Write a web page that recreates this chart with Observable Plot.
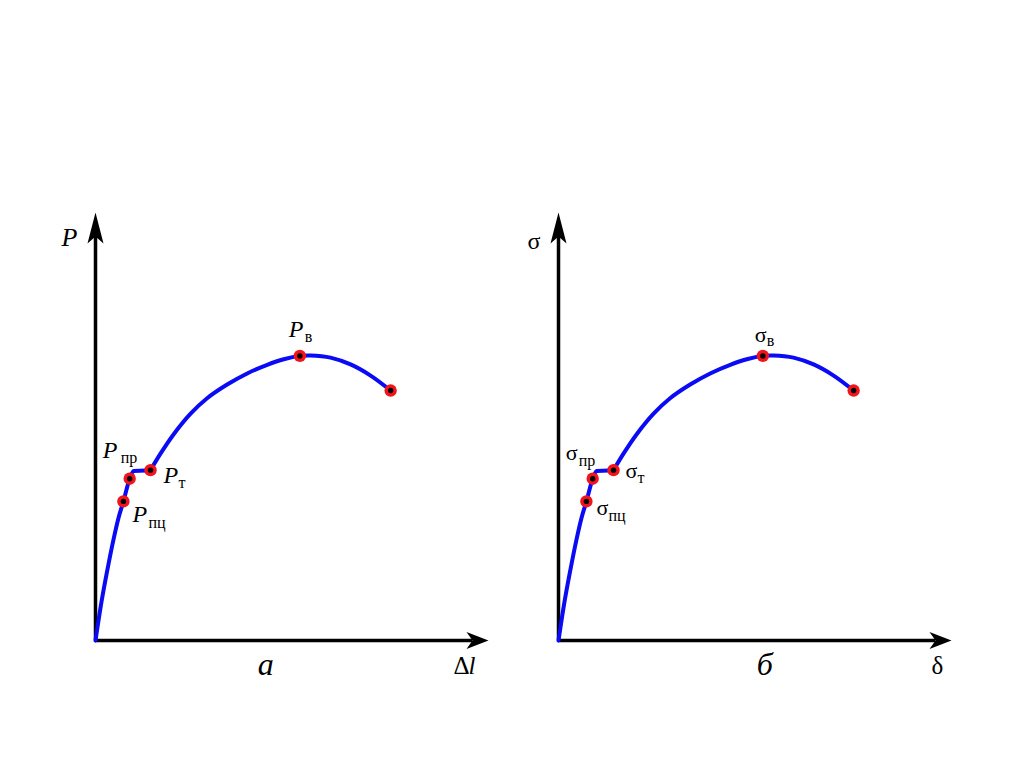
<!DOCTYPE html>
<html><head><meta charset="utf-8">
<script src="https://cdn.jsdelivr.net/npm/d3@7"></script>
<script src="https://cdn.jsdelivr.net/npm/@observablehq/plot@0.6"></script>
<style>
html,body{margin:0;padding:0;background:#fff;}
#wrap{position:relative;width:1024px;height:767px;overflow:hidden;background:#fff;}
#wrap svg{position:absolute;top:0;}
</style></head><body><div id="wrap"></div>
<script>
// Stress–strain (load–elongation) diagram, arbitrary units (axis runs 0..10)
const curveX = [0, 0.13, 0.30, 0.47, 0.59, 0.71, 0.87, 0.97, 1.27, 1.40, 1.65, 1.99, 2.42, 2.84, 3.35, 3.86, 4.37, 4.79, 5.20, 5.47, 5.98, 6.49, 7.00, 7.51];
const curveY = [0, 0.78, 1.64, 2.41, 2.88, 3.25, 3.78, 3.96, 3.97, 3.98, 4.36, 4.82, 5.30, 5.66, 5.98, 6.24, 6.44, 6.57, 6.65, 6.66, 6.61, 6.45, 6.19, 5.84];
const pointKeys = ["пц", "пр", "т", "в", "end"];
const pointX = [0.71, 0.87, 1.40, 5.20, 7.51];
const pointY = [3.25, 3.78, 3.98, 6.65, 5.84];
const axisMax = [10, 10];
const panelSymbols = ["P", "σ"];
const panelCaptions = ["а", "б"];
const panelCaptionX = [4.33, 5.25];
const panelXLabels = ["Δl", "δ"];

const curve = curveX.map((x, i) => ({x, y: curveY[i]}));
const yieldIdx = curveX.indexOf(1.40);
const curveElastic = curve.slice(0, yieldIdx + 1);
const curvePlastic = curve.slice(yieldIdx);
const points = pointKeys.map((k, i) => ({k, x: pointX[i], y: pointY[i]}));

const arrowUp = {draw(ctx) { ctx.moveTo(0, 0); ctx.lineTo(8, 31); ctx.lineTo(0, 24); ctx.lineTo(-8, 31); ctx.closePath(); }};
const arrowRight = {draw(ctx) { ctx.moveTo(0, 0); ctx.lineTo(-22, -8.5); ctx.lineTo(-16, 0); ctx.lineTo(-22, 8.5); ctx.closePath(); }};

const serif = "'Liberation Serif', 'Times New Roman', serif";

// label offsets (pixels) per panel: [main dx, dy, sub dx, dy]
const labelOffsets = [
  {"пц": [9, 21, 25, 27], "пр": [-27, -21, -9, -16], "т": [13, 13, 28, 18], "в": [-11, -19, 5, -14]},
  {"пц": [10, 14, 22, 20], "пр": [-27, -19, -14, -13], "т": [12, 8, 24, 13], "в": [-8, -14, 4, -10]}
];

const wrap = document.getElementById("wrap");
const lefts = [0, 463];

[0, 1].forEach(p => {
  const italic = p === 0 ? "italic" : "normal";
  const mainSize = p === 0 ? 24 : 22;
  const labelMarks = [];
  points.filter(d => d.k !== "end").forEach(d => {
    const o = labelOffsets[p][d.k];
    labelMarks.push(Plot.text([d], {x: "x", y: "y", text: () => panelSymbols[p], dx: o[0], dy: o[1], textAnchor: "start", lineAnchor: "bottom", fontFamily: serif, fontSize: mainSize, fontStyle: italic, fill: "#000"}));
    labelMarks.push(Plot.text([d], {x: "x", y: "y", text: "k", dx: o[2], dy: o[3], textAnchor: "start", lineAnchor: "bottom", fontFamily: serif, fontSize: 16, fill: "#000"}));
  });
  const xLabelMarks = p === 0
    ? [Plot.text([{x: axisMax[0], y: 0}], {x: "x", y: "y", text: () => "Δ", dx: -35, dy: 33, textAnchor: "start", lineAnchor: "bottom", fontFamily: serif, fontSize: 25}),
       Plot.text([{x: axisMax[0], y: 0}], {x: "x", y: "y", text: () => "l", dx: -20, dy: 33, textAnchor: "start", lineAnchor: "bottom", fontFamily: serif, fontSize: 25, fontStyle: "italic"})]
    : [Plot.text([{x: axisMax[0], y: 0}], {x: "x", y: "y", text: () => panelXLabels[1], dx: -20, dy: 33, textAnchor: "start", lineAnchor: "bottom", fontFamily: serif, fontSize: 25})];

  const chart = Plot.plot({
    width: 512, height: 767,
    marginLeft: 95, marginRight: 24, marginTop: 212, marginBottom: 127,
    x: {domain: [0, axisMax[0]], axis: null},
    y: {domain: [0, axisMax[1]], axis: null},
    style: {background: "transparent", overflow: "visible"},
    marks: [
      Plot.ruleX([0], {y1: 0, y2: axisMax[1] - 0.5, stroke: "#000", strokeWidth: 3.5}),
      Plot.ruleY([0], {x1: 0, x2: axisMax[0] - 0.4, stroke: "#000", strokeWidth: 3.5}),
      Plot.dot([{x: 0, y: axisMax[1]}], {x: "x", y: "y", symbol: arrowUp, fill: "#000", stroke: "none"}),
      Plot.dot([{x: axisMax[0], y: 0}], {x: "x", y: "y", symbol: arrowRight, fill: "#000", stroke: "none"}),
      Plot.line(curveElastic, {x: "x", y: "y", curve: "monotone-x", stroke: "#0a0af5", strokeWidth: 4}),
      Plot.line(curvePlastic, {x: "x", y: "y", curve: "catmull-rom", stroke: "#0a0af5", strokeWidth: 4}),
      Plot.dot(points, {x: "x", y: "y", r: 6.2, fill: "#f2141c", stroke: "none"}),
      Plot.dot(points, {x: "x", y: "y", r: 2.7, fill: "#000", stroke: "none"}),
      Plot.text([{x: 0, y: axisMax[1]}], {x: "x", y: "y", text: () => panelSymbols[p], dx: p === 0 ? -34 : -31, dy: p === 0 ? 33 : 36, textAnchor: "start", lineAnchor: "bottom", fontFamily: serif, fontSize: p === 0 ? 26 : 24, fontStyle: italic}),
      Plot.text([{x: panelCaptionX[p], y: 0}], {x: "x", y: "y", text: () => panelCaptions[p], dy: 34, textAnchor: "middle", lineAnchor: "bottom", fontFamily: serif, fontSize: 32, fontStyle: "italic"}),
      ...xLabelMarks,
      ...labelMarks
    ]
  });
  chart.style.left = lefts[p] + "px";
  wrap.appendChild(chart);
});
</script>
</body></html>
